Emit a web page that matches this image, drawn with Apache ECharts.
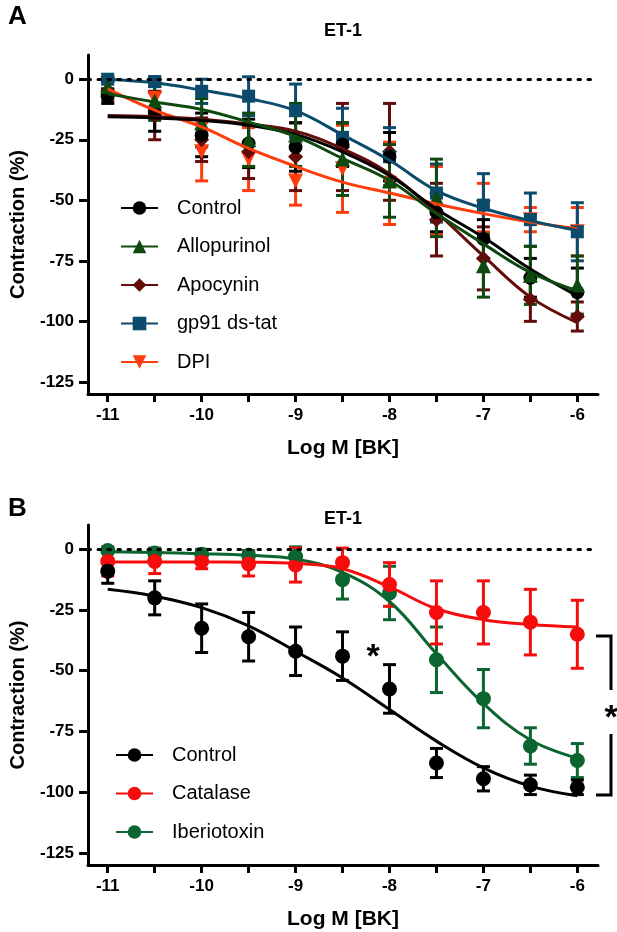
<!DOCTYPE html>
<html><head><meta charset="utf-8">
<script src="https://cdn.jsdelivr.net/npm/echarts@6/dist/echarts.min.js"></script>
<style>html,body{margin:0;padding:0;background:#fff}#c{width:617px;height:932px}</style>
</head><body><div id="c"></div>
<script>
// ---------- data ----------
const logDose = [-11,-10.5,-10,-9.5,-9,-8.5,-8,-7.5,-7,-6.5,-6];
const xTickValues = [-11,-10.5,-10,-9.5,-9,-8.5,-8,-7.5,-7,-6.5,-6];
const xLabelValues = [-11,-10,-9,-8,-7,-6];
const yTickValues = [0,-25,-50,-75,-100,-125];

// Panel A
const aCtrlMean = [-7,-13.5,-23,-26.5,-28,-27,-32,-55,-66,-82,-88];
const aCtrlSem  = [3,8,9,10,10,9,10,8,8,8,10];
const aCtrlFit  = [-15.5,-16,-17,-19,-22.8,-30,-39.8,-53.6,-65.3,-78.4,-89.5];

const aAlloMean = [-3,-9,-18,-25,-23,-33,-42,-49,-77,-81,-85];
const aAlloSem  = [2,8,10,11,13,15,15,16,13,12,12];
const aAlloFit  = [-6,-9.4,-12.5,-17.7,-23.6,-32.7,-41.8,-55.5,-68,-79.8,-87.4];

const aApoMean = [-5,-15,-25,-30,-32,-28,-30,-58,-74,-91,-98];
const aApoSem  = [4,10,9,11,14,18,20,15,13,9,6];
const aApoFit  = [-15,-15.5,-16.5,-18.5,-21.5,-28.7,-39,-55,-73,-90,-100.5];

const aGpMean = [0,-1,-5,-7,-13,-24,-32,-47,-52,-58,-63];
const aGpSem  = [1,2,5,8,11,12,12,12,13,11,12];
const aGpFit  = [0,-1.5,-4.5,-8,-13,-23,-33.5,-46,-53.3,-58.4,-62.5];

const aDpiMean = [-2,-8,-30,-33,-42,-37,-43,-50,-53,-58,-63];
const aDpiSem  = [2,5,12,13,10,18,17,14,10,5,10];
const aDpiFit  = [-4,-12.8,-19.7,-28.6,-36,-42.5,-47,-51.5,-55.5,-59,-61.8];

// Panel B
const bCtrlMean = [-9,-20,-32.5,-36,-42,-44,-57.5,-88,-94.5,-97,-98];
const bCtrlSem  = [5,7,10,10,10,10,10,6,5,4,3];
const bCtrlFit  = [-16.5,-19.3,-24,-31.5,-42,-53,-66,-79,-90,-97.5,-101.5];

const bCatMean = [-5,-5,-5,-6,-6.5,-5.5,-14.5,-26,-26,-30,-35];
const bCatSem  = [6,5,3,5,7,6,9,13,13,13.5,14];
const bCatFit  = [-5.2,-5.2,-5.2,-5.3,-5.8,-8,-15.5,-24.5,-29,-31,-32];

const bIbMean = [-0.5,-1.5,-2,-2.5,-3,-12.5,-18,-45.5,-61.5,-81,-87];
const bIbSem  = [1,2,2,2,4,8,11,13.5,12,7.5,7];
const bIbFit  = [-1,-1.3,-1.8,-2.5,-4,-9.5,-21.5,-43,-63.5,-78.5,-86];

// ---------- chart ----------
const FONT = '"Liberation Sans", Arial, Helvetica, sans-serif';
const chart = echarts.init(document.getElementById('c'), null, {renderer:'canvas'});

function fitSeries(p, name, fit, color, symbol, rotate, size){
  return {type:'line', name, xAxisIndex:p, yAxisIndex:p, smooth:0.4,
    showSymbol:false, symbol, symbolRotate:rotate, symbolSize:size, silent:true,
    itemStyle:{color}, lineStyle:{color, width:3},
    data: logDose.map((x,i)=>[x, fit[i]])};
}
function errSeries(p, mean, sem, color){
  return {type:'custom', xAxisIndex:p, yAxisIndex:p, silent:true,
    dimensions:['x','y','e'], encode:{x:0,y:1},
    data: logDose.map((x,i)=>[x, mean[i], sem[i]]),
    renderItem(params, api){
      const x=api.value(0), m=api.value(1), s=api.value(2);
      const t=api.coord([x,m+s]), b=api.coord([x,m-s]);
      const hw=6.5, st={stroke:color, lineWidth:3};
      return {type:'group', children:[
        {type:'line', shape:{x1:t[0],y1:t[1],x2:b[0],y2:b[1]}, style:st},
        {type:'line', shape:{x1:t[0]-hw,y1:t[1],x2:t[0]+hw,y2:t[1]}, style:st},
        {type:'line', shape:{x1:b[0]-hw,y1:b[1],x2:b[0]+hw,y2:b[1]}, style:st}
      ]};
    }};
}
function ptSeries(p, name, mean, color, symbol, rotate, size){
  return {type:'scatter', name: name+' pts', xAxisIndex:p, yAxisIndex:p, silent:true,
    symbol, symbolRotate:rotate, symbolSize:size, itemStyle:{color, opacity:1},
    data: logDose.map((x,i)=>[x, mean[i]])};
}
function group(p, name, mean, sem, fit, color, symbol, rotate, size){
  return [fitSeries(p,name,fit,color,symbol,rotate,size), errSeries(p,mean,sem,color), ptSeries(p,name,mean,color,symbol,rotate,size)];
}

const cBlack='#000000', cAllo='#0e4a10', cApo='#640c0c', cGp='#0b4b6b', cDpi='#ff3c0c';
const cCat='#f50d0d', cIb='#0b6530';

function xAx(p){
  return {type:'value', gridIndex:p, min:-11.21, max:-5.78,
    axisLine:{onZero:false, lineStyle:{color:'#000', width:3}},
    axisTick:{show:true, customValues:xTickValues, length:8, lineStyle:{color:'#000', width:3}},
    axisLabel:{customValues:xLabelValues, color:'#000', fontWeight:'bold', fontSize:17, fontFamily:FONT, margin:13},
    splitLine:{show:false},
    name:'Log M [BK]', nameLocation:'middle', nameGap:44,
    nameTextStyle:{color:'#000', fontWeight:'bold', fontSize:21, fontFamily:FONT}};
}
function yAx(p){
  return {type:'value', gridIndex:p, min:-130, max:10,
    axisLine:{onZero:false, lineStyle:{color:'#000', width:3}},
    axisTick:{show:true, customValues:yTickValues, length:9, lineStyle:{color:'#000', width:3}},
    axisLabel:{customValues:yTickValues, color:'#000', fontWeight:'bold', fontSize:17, fontFamily:FONT, margin:14},
    splitLine:{show:false},
    name:'Contraction (%)', nameLocation:'middle', nameGap:60, nameRotate:90,
    nameTextStyle:{color:'#000', fontWeight:'bold', fontSize:20, fontFamily:FONT}};
}

const zeroLine = {silent:true, symbol:'none', label:{show:false},
  lineStyle:{color:'#000', width:3, type:[2.5,7.5], cap:'round'}, data:[{yAxis:0}]};

const series = [
  ...group(0,'DPI',aDpiMean,aDpiSem,aDpiFit,cDpi,'triangle',180,15),
  ...group(0,'Apocynin',aApoMean,aApoSem,aApoFit,cApo,'diamond',0,15),
  ...group(0,'gp91 ds-tat',aGpMean,aGpSem,aGpFit,cGp,'rect',0,13),
  ...group(0,'Control',aCtrlMean,aCtrlSem,aCtrlFit,cBlack,'circle',0,14),
  ...group(0,'Allopurinol',aAlloMean,aAlloSem,aAlloFit,cAllo,'triangle',0,15),
  ...group(1,'Iberiotoxin',bIbMean,bIbSem,bIbFit,cIb,'circle',0,15),
  ...group(1,'Catalase',bCatMean,bCatSem,bCatFit,cCat,'circle',0,15),
  ...group(1,'Control B',bCtrlMean,bCtrlSem,bCtrlFit,cBlack,'circle',0,15)
];
series[0].markLine = zeroLine;
series[15].markLine = zeroLine;

const legendCommon = {orient:'vertical', itemWidth:37, itemHeight:17, itemGap:18.5, padding:0,
  selectedMode:false,
  textStyle:{color:'#000', fontSize:20, fontFamily:FONT, padding:[0,0,0,14]}};

chart.setOption({
  animation:false,
  backgroundColor:'#fff',
  grid:[
    {left:87, right:19, top:55, height:339},
    {left:87, right:19, top:525, height:340}
  ],
  xAxis:[xAx(0), xAx(1)],
  yAxis:[yAx(0), yAx(1)],
  legend:[
    Object.assign({}, legendCommon, {left:120, top:198, data:['Control','Allopurinol','Apocynin','gp91 ds-tat','DPI']}),
    Object.assign({}, legendCommon, {left:115, top:745,
      data:[{name:'Control B'},{name:'Catalase'},{name:'Iberiotoxin'}],
      formatter: n => n==='Control B' ? 'Control' : n})
  ],
  graphic:[
    {type:'text', left:8, top:4, style:{text:'A', font:'bold 26px '+FONT, fill:'#000'}},
    {type:'text', x:343, y:31, style:{text:'ET-1', font:'bold 18px '+FONT, fill:'#000', align:'center', verticalAlign:'middle'}},
    {type:'text', left:8, top:496, style:{text:'B', font:'bold 26px '+FONT, fill:'#000'}},
    {type:'text', x:343, y:519, style:{text:'ET-1', font:'bold 18px '+FONT, fill:'#000', align:'center', verticalAlign:'middle'}},
    {type:'text', x:373, y:658, style:{text:'*', font:'bold 34px '+FONT, fill:'#000', align:'center', verticalAlign:'middle'}},
    {type:'text', x:611, y:719, style:{text:'*', font:'bold 34px '+FONT, fill:'#000', align:'center', verticalAlign:'middle'}},
    {type:'polyline', shape:{points:[[596,636],[611,636],[611,690]]}, style:{stroke:'#000', lineWidth:3, fill:null}},
    {type:'polyline', shape:{points:[[611,734],[611,795],[596,795]]}, style:{stroke:'#000', lineWidth:3, fill:null}}
  ],
  series
});
</script></body></html>
